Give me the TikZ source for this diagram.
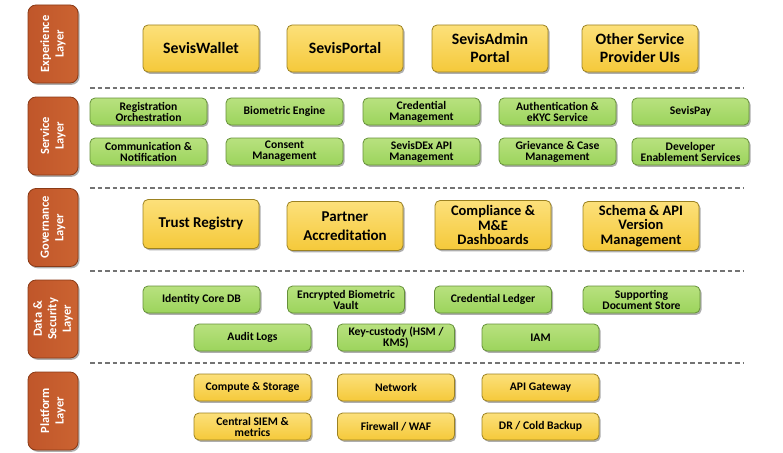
\documentclass[tikz,border=0pt]{standalone}
\usepackage{fontspec}
\setmainfont{Carlito}
\usetikzlibrary{shadows}
\definecolor{orangeTop}{HTML}{CB6331}
\definecolor{orangeBot}{HTML}{C0562A}
\definecolor{orangeLine}{HTML}{8A3A16}
\definecolor{yelTop}{HTML}{FCE07A}
\definecolor{yelBot}{HTML}{F5C93A}
\definecolor{yelLine}{HTML}{9C8222}
\definecolor{grnTop}{HTML}{B8E17F}
\definecolor{grnBot}{HTML}{9CD45C}
\definecolor{grnLine}{HTML}{66913A}
\tikzset{
  base/.style={rounded corners=5pt, line width=0.8pt, align=center, inner sep=1pt,
    drop shadow={shadow xshift=1.6pt, shadow yshift=-1.8pt, opacity=0.45, fill=black!70}},
  layerbox/.style={base, rounded corners=8pt, left color=orangeBot, right color=orangeTop, draw=orangeLine,
    minimum width=78pt, minimum height=50pt, text=white,
    font=\fontsize{12.5}{14.5}\selectfont\bfseries, rotate=90},
  ybig/.style={base, top color=yelTop, bottom color=yelBot, draw=yelLine, minimum width=116pt},
  expbox/.style={ybig, minimum height=47pt, font=\fontsize{15.8}{18}\selectfont\bfseries},
  govbox/.style={ybig, minimum height=49pt},
  gsmall/.style={base, top color=grnTop, bottom color=grnBot, draw=grnLine, minimum width=117pt,
    minimum height=27pt, font=\fontsize{11.6}{11}\selectfont\bfseries},
  ysmall/.style={base, top color=yelTop, bottom color=yelBot, draw=yelLine, minimum width=117pt,
    minimum height=27pt, font=\fontsize{11.6}{11}\selectfont\bfseries},
  sep/.style={draw=black!55, line width=1.1pt, dash pattern=on 4.5pt off 3pt}
}
\begin{document}
\begin{tikzpicture}[x=1pt,y=-1pt]
\useasboundingbox (0,0) rectangle (783,452);
% layer labels
\node[layerbox] (lexp) at (53,44) {Experience\\Layer};
\node[layerbox] (lsvc) at (53,136) {Service\\Layer};
\node[layerbox] (lgov) at (53,227.5) {Governance\\Layer};
\node[layerbox] (ldat) at (53,319) {Data \&\\Security\\Layer};
\node[layerbox] (lplt) at (53,411) {Platform\\Layer};
% separators
\foreach \yy/\nm in {88/a,188/b,271/c,363/d}{
  \coordinate (s\nm1) at (90,\yy);
  \coordinate (s\nm2) at (743,\yy);
  \draw[sep] (s\nm1) -- (s\nm2);
}
% experience
\node[expbox] (wallet) at (201,48.5) {SevisWallet};
\node[expbox] (portal) at (345,48.5) {SevisPortal};
\node[expbox] (admin) at (490,48.5) {SevisAdmin\\Portal};
\node[expbox] (other) at (640,48.5) {Other Service\\Provider UIs};
% service
\node[gsmall] (reg) at (148.5,111.5) {Registration\\Orchestration};
\node[gsmall] (bio) at (284.5,111.5) {Biometric Engine};
\node[gsmall] (cred) at (421.5,111.5) {Credential\\Management};
\node[gsmall] (auth) at (557.5,111.5) {Authentication \&\\eKYC Service};
\node[gsmall] (pay) at (690.5,111.5) {SevisPay};
\node[gsmall] (comm) at (148.5,151.5) {Communication \&\\Notification};
\node[gsmall] (cons) at (284.5,151.5) {Consent\\Management};
\node[gsmall] (dex) at (421.5,151.5) {SevisDEx API\\Management};
\node[gsmall] (griev) at (557.5,151.5) {Grievance \& Case\\Management};
\node[gsmall] (dev) at (690.5,151.5) {Developer\\Enablement Services};
% governance
\node[govbox, font=\fontsize{15}{17}\selectfont\bfseries] (trust) at (201,224) {Trust Registry};
\node[govbox, font=\fontsize{15}{19}\selectfont\bfseries] (partner) at (345,226) {Partner\\Accreditation};
\node[govbox, font=\fontsize{14.5}{14.5}\selectfont\bfseries] (comp) at (493,225) {Compliance \&\\M\&E\\Dashboards};
\node[govbox, font=\fontsize{14.5}{14.5}\selectfont\bfseries] (schema) at (641,226) {Schema \& API\\Version\\Management};
% data & security
\node[gsmall] (idc) at (201.5,299.5) {Identity Core DB};
\node[gsmall] (ebv) at (346,299.5) {Encrypted Biometric\\Vault};
\node[gsmall] (cl) at (493,299.5) {Credential Ledger};
\node[gsmall] (sds) at (641.5,299.5) {Supporting\\Document Store};
\node[gsmall] (audit) at (252.5,337.5) {Audit Logs};
\node[gsmall] (key) at (396,337.5) {Key-custody (HSM /\\KMS)};
\node[gsmall] (iam) at (540.5,337.5) {IAM};
% platform
\node[ysmall] (cs) at (252.5,387.5) {Compute \& Storage};
\node[ysmall] (net) at (396,387.5) {Network};
\node[ysmall] (apig) at (540.5,387.5) {API Gateway};
\node[ysmall] (siem) at (252.5,426.5) {Central SIEM \&\\metrics};
\node[ysmall] (fw) at (396,426.5) {Firewall / WAF};
\node[ysmall] (dr) at (540.5,426.5) {DR / Cold Backup};
\end{tikzpicture}
\end{document}
